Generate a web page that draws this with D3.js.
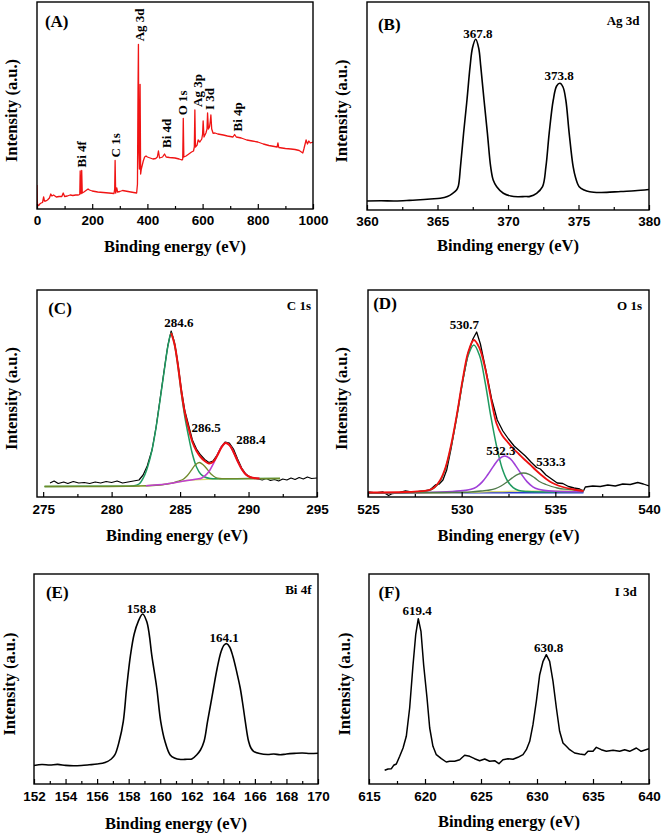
<!DOCTYPE html>
<html><head><meta charset="utf-8">
<script src="https://cdn.jsdelivr.net/npm/d3@7"></script>
<style>
html,body{margin:0;padding:0;background:#fff;}
svg{display:block;}
</style></head>
<body>
<svg id="chart" width="661" height="834"></svg>
<script>
// ---------------- DATA (binding energy eV, intensity a.u.) ----------------
const surveyA = [[0,24],[0.8,10],[2,4],[6,3.5],[10,5],[15,6],[20,6.5],[24,12],[27,8],[32,8],[38,9],[45,11],[50,15],[54,13],[60,14],[70,12],[80,12.5],[90,12.5],[95,16],[100,12.5],[110,13],[120,14],[130,13.5],[140,14],[150,14],[155,14.5],[156.5,38],[158,16],[160,15.5],[162,38.5],[164,16],[170,17],[180,19],[185,20],[190,19],[200,18],[220,17],[240,16.5],[260,16],[279,15.5],[281.5,20],[283,48.5],[285,16],[289,21],[292,17],[300,17.5],[310,18.5],[330,17.5],[350,16.5],[361,16],[364,25],[366,120],[367.5,164.7],[369,60],[371,40],[373.5,124.7],[375.5,35],[378,40],[385,48],[390,52],[395,53],[400,52],[410,51],[420,50],[430,50.5],[436,52],[440,58],[444,51],[455,52],[462,55],[468,52],[480,51.5],[500,51],[515,50],[525,49],[528,50],[530,90.7],[532,52],[540,53],[550,55],[560,57],[567,58],[570,62],[572,99],[574,62],[580,64],[584,69],[590,67],[597,70],[600,75],[602,88],[605,72],[612,76],[616,80],[618,96],[621,80],[625,82],[628,88],[630,94],[633,80],[638,75.7],[645,76],[655,75],[665,74.5],[675,74],[690,73],[700,72.5],[710,72],[716,74.5],[722,72],[740,71],[760,69],[780,68],[800,67],[820,65],[840,63.5],[860,62.5],[870,62],[873,66],[876,61.5],[900,60.5],[920,60],[935,59.5],[950,58.5],[963,56],[967,60],[975,69],[980,65],[985,68],[990,66],[1000,67]];
const surveyLabels = ["Bi 4f","C 1s","Ag 3d","Bi 4d","O 1s","Ag 3p","I 3d","Bi 4p"];
const surveyLabelE = [160,285,370,469,528,580,625,728];
const surveyLabelV = [38.5,48.5,164.7,58,90.7,99,96,74.5];

const ag3d = [[360,9],[361,9.2],[362,9],[363,9.6],[363.5,10],[364.5,11],[365.2,11.7],[365.7,13.5],[366.08,16.7],[366.35,20],[366.48,24],[366.63,43.3],[366.85,76.7],[367.09,110],[367.31,143.3],[367.48,162],[367.71,170.7],[367.92,162],[368.07,143.3],[368.3,110],[368.54,76.7],[368.77,43.3],[368.95,30],[369.2,23.3],[369.67,16.7],[370.2,14],[370.7,13.3],[371.2,13.5],[371.56,13.6],[372.03,16.7],[372.45,23.3],[372.69,43.3],[372.92,76.7],[373.21,110],[373.45,124],[373.68,126.7],[373.9,123],[374.1,110],[374.34,76.7],[374.62,43.3],[374.8,32],[375.05,23.3],[375.4,20],[375.8,18.3],[376.5,17.5],[377,17.6],[378,18.5],[379,19.2],[380,20.5]];
const ag3dLabels = ["367.8","373.8"];
const ag3dLabelE = [367.87,373.63];
const ag3dLabelV = [176.7,135];

const c1sRaw = [[275.5,14],[275.8,16],[276.1,13.5],[276.5,15],[276.8,13.5],[277.2,15.5],[277.6,14],[278,14.5],[278.4,13.5],[278.8,15],[279.2,14],[279.6,15.5],[280,14.5],[280.4,16],[280.8,14],[281.2,15],[281.6,16],[282,17],[282.3,22],[282.6,31],[282.95,47],[283.25,70],[283.55,99],[283.85,128],[284.1,151],[284.35,166],[284.6,154],[284.85,133],[285.1,107],[285.35,86],[285.6,73],[285.9,57],[286.2,48],[286.5,42],[286.8,37.5],[287.1,34.5],[287.4,36],[287.7,42],[288,50],[288.3,55],[288.6,54],[288.9,48],[289.2,38],[289.5,29],[289.8,23],[290.1,20],[290.4,19],[290.7,18],[291,17],[291.3,18.5],[291.6,16.5],[291.9,17.5],[292.2,16],[292.5,18],[292.8,17],[293.1,19],[293.4,17.5],[293.7,19.5],[294,18],[294.3,20],[294.6,18.5],[295,19]];
const c1sBg = [[275.1,10.5],[280,10.7],[282,11],[283.5,12],[284.5,14],[285.5,16.5],[286.5,17.5],[288,18],[290,18.4],[292.3,18.5]];
const c1sPeak1 = [[275.1,10.5],[280,10.8],[281.5,11],[282,13],[282.35,20],[282.65,31],[282.95,47],[283.25,70],[283.55,98],[283.85,127],[284.1,150],[284.35,164],[284.6,152],[284.85,130],[285.1,103],[285.35,80],[285.6,62],[285.9,43],[286.2,30],[286.5,23],[286.8,20],[287.2,18.5],[288,18.2],[290,18.4],[292.3,18.5]];
const c1sPeak2 = [[275.1,10.5],[282,11],[283.5,12],[284.5,14.2],[284.9,16],[285.2,17.5],[285.5,21],[285.8,26.4],[286.1,32],[286.4,34.5],[286.7,32],[287,27.4],[287.3,22.4],[287.6,19.5],[287.9,18.5],[288.5,18.3],[290,18.4],[292.3,18.5]];
const c1sPeak3 = [[282.5,11.3],[284,13],[285.5,16.5],[286.25,18],[286.55,18.8],[286.85,21.6],[287.15,26.3],[287.45,33.8],[287.75,42.8],[288.05,50.8],[288.35,54],[288.65,51.3],[288.95,43.3],[289.25,34.3],[289.55,26.8],[289.85,22.1],[290.15,19.8],[290.45,18.9],[290.8,18.5]];
const c1sEnvelope = [[284.35,164],[284.6,152.5],[284.85,131],[285.1,105],[285.35,84],[285.6,70],[285.9,55],[286.2,46],[286.5,40],[286.8,36],[287.1,33.5],[287.4,35],[287.7,41],[288,49],[288.3,54],[288.6,52],[288.9,45],[289.2,36],[289.5,28],[289.8,22.5],[290.1,20],[290.4,19],[290.8,18.5]];
const c1sLabels = ["284.6","286.5","288.4"];
const c1sLabelE = [284.92,286.9,290.17];
const c1sLabelV = [174.4,70,57.7];

const o1sRaw = [[525,5],[525.4,4],[525.8,5],[526.1,1.5],[526.3,3.5],[526.7,4.5],[527,6],[527.3,5],[527.7,5.5],[528,6],[528.3,7],[528.6,12],[528.8,13],[529,17],[529.2,27],[529.45,50],[529.75,82],[530.05,116],[530.35,144],[530.6,158],[530.8,165],[531,153],[531.3,126],[531.6,98],[531.9,77],[532.2,66],[532.5,58],[532.8,51],[533.1,46],[533.4,41],[533.7,35],[534,29.5],[534.2,28],[534.5,22],[534.8,18],[535.1,14],[535.4,13.5],[535.7,10.5],[536,9],[536.3,8],[536.5,6],[536.6,10],[537,11],[537.4,10.5],[537.8,12],[538.2,11],[538.6,13],[539,12.5],[539.4,14.5],[539.7,13],[540,11]];
const o1sBase = [[525,4.3],[536.5,4.3]];
const o1sBg = [[525,3.8],[529,4.2],[531,5],[533,5.8],[536.5,6]];
const o1sPeak1 = [[525,4.2],[527,4.5],[528.25,6.5],[528.55,9.3],[528.85,16],[529.15,29.3],[529.45,52],[529.75,81.4],[530.05,115],[530.35,141.7],[530.65,152],[530.95,141.7],[531.25,115],[531.55,81.4],[531.85,52],[532.15,29.3],[532.45,16],[532.75,9.3],[533.05,6.5],[533.5,5.5],[536.5,5.2]];
const o1sPeak2 = [[525,4],[528,4.5],[529.5,5.5],[530.2,6.6],[530.5,7.7],[530.8,10.2],[531.1,15.1],[531.4,22.5],[531.7,30.9],[532,38.2],[532.3,41],[532.6,38.2],[532.9,30.9],[533.2,22.5],[533.5,15.1],[533.8,10.2],[534.1,7.7],[534.4,6.6],[535,5.8],[536.5,5.2]];
const o1sPeak3 = [[525,4],[529,4.5],[530.5,5],[531.2,6.4],[531.5,7],[531.8,8.4],[532.1,11],[532.4,14.8],[532.7,19.1],[533,22.6],[533.3,24],[533.6,22.6],[533.9,19.1],[534.2,15],[534.5,12.5],[534.8,10.5],[535.1,9],[535.5,7.8],[536,7],[536.5,6.5]];
const o1sEnvelope = [[525,4.5],[527,5],[528.25,6.8],[528.55,9.8],[528.85,16.8],[529.15,30.3],[529.45,53.3],[529.75,83],[530.05,117],[530.35,145],[530.65,157],[530.95,149],[531.25,129],[531.55,100],[531.85,74],[532.15,62],[532.45,55],[532.75,48.5],[533.05,43],[533.35,37.5],[533.65,32.5],[533.95,27],[534.25,22],[534.55,17.5],[534.85,14],[535.15,11.5],[535.5,9.5],[536,7.5],[536.5,6]];
const o1sLabels = ["530.7","532.3","533.3"];
const o1sLabelE = [530.14,532.09,534.76];
const o1sLabelV = [172.3,47,35.3];

const bi4f = [[152,18.5],[152.5,19.5],[153,19],[153.5,19.6],[154,18.6],[154.5,18.2],[155,18.5],[155.5,19.2],[156,20],[156.5,21.5],[156.9,25],[157.13,29.3],[157.4,42.7],[157.66,62.7],[157.87,96],[158.12,129.3],[158.35,150],[158.61,162.7],[158.89,170],[159.14,162.7],[159.3,150],[159.46,129.3],[159.78,96],[160.03,62.7],[160.3,42.7],[160.62,29.3],[160.9,26],[161.3,24.5],[161.7,24.8],[162,25],[162.32,29.3],[162.55,34],[162.78,42.7],[163,62.7],[163.2,80],[163.38,96],[163.6,115],[163.85,132],[164.05,139],[164.22,140.3],[164.4,137],[164.6,128],[164.85,112],[165.07,96],[165.25,78],[165.39,62.7],[165.6,42.7],[165.75,36],[165.92,32.7],[166.3,30.5],[166.8,29.5],[167.2,30],[167.6,29.2],[168,30],[168.5,30.6],[169,31],[169.5,30.5],[170,30.8]];
const bi4fLabels = ["158.8","164.1"];
const bi4fLabelE = [158.8,164.05];
const bi4fLabelV = [175.7,147];

const i3d = [[616.4,13.7],[616.7,15],[617,15.3],[617.2,18.7],[617.44,20],[617.74,27.7],[618.04,36],[618.33,47.7],[618.63,76],[618.93,119],[619.17,149.3],[619.4,165.3],[619.64,152.7],[619.88,119],[620.18,86],[620.42,56],[620.71,37.7],[621.01,29.3],[621.46,25.3],[621.9,22],[622.2,22.7],[622.65,22.7],[623.1,24.3],[623.54,28.7],[623.99,27.7],[624.43,25.3],[624.88,23.3],[625.33,25],[625.77,22.7],[626.22,23.3],[626.6,20.3],[626.96,24.3],[627.41,25.3],[627.86,24.7],[628.3,26.7],[628.75,29.3],[629.05,34.3],[629.35,42.7],[629.64,59.3],[629.94,82.7],[630.24,109.3],[630.54,122.7],[630.83,129.3],[631.13,122.7],[631.43,102.7],[631.73,76],[632.02,52.7],[632.32,41],[632.62,37.7],[632.92,34.3],[633.36,31],[633.81,30],[634.26,29.3],[634.55,32.7],[635,32.7],[635.3,36.7],[635.74,34.3],[636.19,32.7],[636.79,33.7],[637.38,32.7],[637.83,34.3],[638.27,32.7],[638.87,36],[639.3,32.7],[640,35.3]];
const i3dLabels = ["619.4","630.8"];
const i3dLabelE = [619.3,631.04];
const i3dLabelV = [174,136.7];

const ticksA = [0,200,400,600,800,1000];
const ticksB = [360,365,370,375,380];
const ticksC = [275,280,285,290,295];
const ticksD = [525,530,535,540];
const ticksE = [152,154,156,158,160,162,164,166,168,170];
const ticksF = [615,620,625,630,635,640];

// ---------------- LAYOUT ----------------
const svg = d3.select("#chart");
const SERIF = "'Liberation Serif','Times New Roman',serif";
const SANS = "'Liberation Sans',Arial,sans-serif";

const panels = [
  {id:"A", left:37, right:313, top:2, bottom:209, xDomain:[0,1000], ticks:ticksA, minorStep:100, letter:"(A)", letterPos:[56.7,21.7], tag:null, yTitleX:11.7, xTitleY:246.7, tickPad:6,
   series:[{data:surveyA, color:"#f01414", width:1.3, curve:d3.curveLinear}]},
  {id:"B", left:367, right:649, top:2, bottom:210, xDomain:[360,380], ticks:ticksB, minorStep:2.5, letter:"(B)", letterPos:[389.3,24], tag:"Ag 3d", tagPos:[639.5,20], yTitleX:341, xTitleY:245, tickPad:6,
   series:[{data:ag3d, color:"#000", width:1.6, curve:d3.curveCatmullRom.alpha(0.5)}],
   labels:[ag3dLabels, ag3dLabelE, ag3dLabelV]},
  {id:"C", left:37, right:317, top:290, bottom:497, xDomain:[274.55,295], ticks:ticksC, minorStep:2.5, letter:"(C)", letterPos:[60,308.3], tag:"C 1s", tagPos:[311,305], yTitleX:11.3, xTitleY:535, tickPad:7,
   series:[
     {data:c1sRaw, color:"#000", width:1.2, curve:d3.curveLinear},
     {data:c1sBg, color:"#d8d870", width:1.4, curve:d3.curveMonotoneX},
     {data:c1sPeak1, color:"#1f9a60", width:1.5, curve:d3.curveCatmullRom.alpha(0.5)},
     {data:c1sPeak2, color:"#6f8a2a", width:1.3, curve:d3.curveCatmullRom.alpha(0.5)},
     {data:c1sPeak3, color:"#c040d0", width:1.6, curve:d3.curveCatmullRom.alpha(0.5)},
     {data:c1sEnvelope, color:"#ee1010", width:2, curve:d3.curveCatmullRom.alpha(0.5)}],
   labels:[c1sLabels, c1sLabelE, c1sLabelV]},
  {id:"D", left:368, right:649, top:290, bottom:497, xDomain:[525,540], ticks:ticksD, minorStep:2.5, letter:"(D)", letterPos:[385,303.3], tag:"O 1s", tagPos:[642,305], yTitleX:341.5, xTitleY:535, tickPad:7,
   series:[
     {data:o1sRaw, color:"#000", width:1.3, curve:d3.curveLinear},
     {data:o1sBase, color:"#2a3ad0", width:1.6, curve:d3.curveLinear},
     {data:o1sBg, color:"#d8d870", width:1.3, curve:d3.curveMonotoneX},
     {data:o1sPeak1, color:"#1f9a60", width:1.5, curve:d3.curveCatmullRom.alpha(0.5)},
     {data:o1sPeak2, color:"#a040d8", width:1.6, curve:d3.curveCatmullRom.alpha(0.5)},
     {data:o1sPeak3, color:"#4f7a4a", width:1.3, curve:d3.curveCatmullRom.alpha(0.5)},
     {data:o1sEnvelope, color:"#ee1010", width:1.8, curve:d3.curveCatmullRom.alpha(0.5)}],
   labels:[o1sLabels, o1sLabelE, o1sLabelV]},
  {id:"E", left:34, right:318, top:574, bottom:784, xDomain:[152,170], ticks:ticksE, minorStep:1, letter:"(E)", letterPos:[57.3,592.3], tag:"Bi 4f", tagPos:[311.5,589], yTitleX:9.3, xTitleY:823.3, tickPad:7,
   series:[{data:bi4f, color:"#000", width:1.6, curve:d3.curveCatmullRom.alpha(0.5)}],
   labels:[bi4fLabels, bi4fLabelE, bi4fLabelV]},
  {id:"F", left:369, right:649, top:574, bottom:784, xDomain:[615,640], ticks:ticksF, minorStep:2.5, letter:"(F)", letterPos:[389.3,592.3], tag:"I 3d", tagPos:[636.7,591], yTitleX:344, xTitleY:821.7, tickPad:7,
   series:[{data:i3d, color:"#000", width:1.5, curve:d3.curveLinear}],
   labels:[i3dLabels, i3dLabelE, i3dLabelV]}
];

panels.forEach(p => {
  const g = svg.append("g");
  const x = d3.scaleLinear().domain(p.xDomain).range([p.left, p.right]);
  const y = d3.scaleLinear().domain([0, p.bottom - p.top]).range([p.bottom, p.top]);
  const clipId = "clip" + p.id;
  svg.append("clipPath").attr("id", clipId).append("rect")
    .attr("x", p.left).attr("y", p.top).attr("width", p.right - p.left).attr("height", p.bottom - p.top);
  const plot = g.append("g").attr("clip-path", `url(#${clipId})`);
  p.series.forEach(s => {
    const line = d3.line().x(d => x(d[0])).y(d => y(d[1])).curve(s.curve);
    plot.append("path").datum(s.data).attr("d", line)
      .attr("fill", "none").attr("stroke", s.color).attr("stroke-width", s.width)
      .attr("stroke-linejoin", "round");
  });
  // frame
  g.append("rect").attr("x", p.left).attr("y", p.top).attr("width", p.right - p.left).attr("height", p.bottom - p.top)
    .attr("fill", "none").attr("stroke", "#000").attr("stroke-width", 1.4);
  // minor ticks
  const minor = d3.range(p.xDomain[0], p.xDomain[1] + 1e-9, p.minorStep)
    .map(v => Math.round(v * 100) / 100)
    .filter(v => !p.ticks.includes(v) && v > p.xDomain[0] && v < p.xDomain[1]);
  const minorStart = Math.ceil(p.xDomain[0] / p.minorStep) * p.minorStep;
  const minorVals = d3.range(minorStart, p.xDomain[1] + 1e-9, p.minorStep).map(v => Math.round(v*100)/100)
    .filter(v => !p.ticks.includes(v));
  g.append("g").attr("transform", `translate(0,${p.bottom})`)
    .call(d3.axisBottom(x).tickValues(minorVals).tickSize(-3).tickFormat(""))
    .call(a => a.select(".domain").remove())
    .call(a => a.selectAll("line").attr("stroke-width", 1.2));
  // major ticks
  g.append("g").attr("transform", `translate(0,${p.bottom})`)
    .call(d3.axisBottom(x).tickValues(p.ticks).tickSize(-5).tickPadding(p.tickPad).tickFormat(d3.format("d")))
    .call(a => a.select(".domain").remove())
    .call(a => a.selectAll("line").attr("stroke-width", 1.2))
    .call(a => a.selectAll("text").attr("font-family", SANS).attr("font-weight", "bold")
      .attr("font-size", 13.5).attr("fill", "#000"));
  // axis titles
  g.append("text").attr("x", (p.left + p.right) / 2).attr("y", p.xTitleY)
    .attr("text-anchor", "middle").attr("dominant-baseline", "central")
    .attr("font-family", SERIF).attr("font-weight", "bold").attr("font-size", 16.5)
    .text("Binding energy (eV)");
  g.append("text").attr("transform", `translate(${p.yTitleX},${(p.top + p.bottom) / 2 + 5}) rotate(-90)`)
    .attr("text-anchor", "middle").attr("dominant-baseline", "central")
    .attr("font-family", SERIF).attr("font-weight", "bold").attr("font-size", 16.5)
    .text("Intensity (a.u.)");
  // panel letter
  g.append("text").attr("x", p.letterPos[0]).attr("y", p.letterPos[1])
    .attr("text-anchor", "middle").attr("dominant-baseline", "central")
    .attr("font-family", SERIF).attr("font-weight", "bold").attr("font-size", 17)
    .text(p.letter);
  if (p.tag) {
    g.append("text").attr("x", p.tagPos[0]).attr("y", p.tagPos[1])
      .attr("text-anchor", "end").attr("dominant-baseline", "central")
      .attr("font-family", SERIF).attr("font-weight", "bold").attr("font-size", 13)
      .text(p.tag);
  }
  if (p.labels) {
    const [txt, es, vs] = p.labels;
    txt.forEach((t, i) => {
      g.append("text").attr("x", x(es[i])).attr("y", y(vs[i]))
        .attr("text-anchor", "middle").attr("dominant-baseline", "central")
        .attr("font-family", SERIF).attr("font-weight", "bold").attr("font-size", 13)
        .text(t);
    });
  }
  if (p.id === "A") {
    surveyLabels.forEach((t, i) => {
      g.append("text")
        .attr("transform", `translate(${x(surveyLabelE[i])},${y(surveyLabelV[i]) - 3}) rotate(-90)`)
        .attr("text-anchor", "start").attr("dominant-baseline", "central")
        .attr("font-family", SERIF).attr("font-weight", "bold").attr("font-size", 13)
        .text(t);
    });
  }
});
</script>
</body></html>
